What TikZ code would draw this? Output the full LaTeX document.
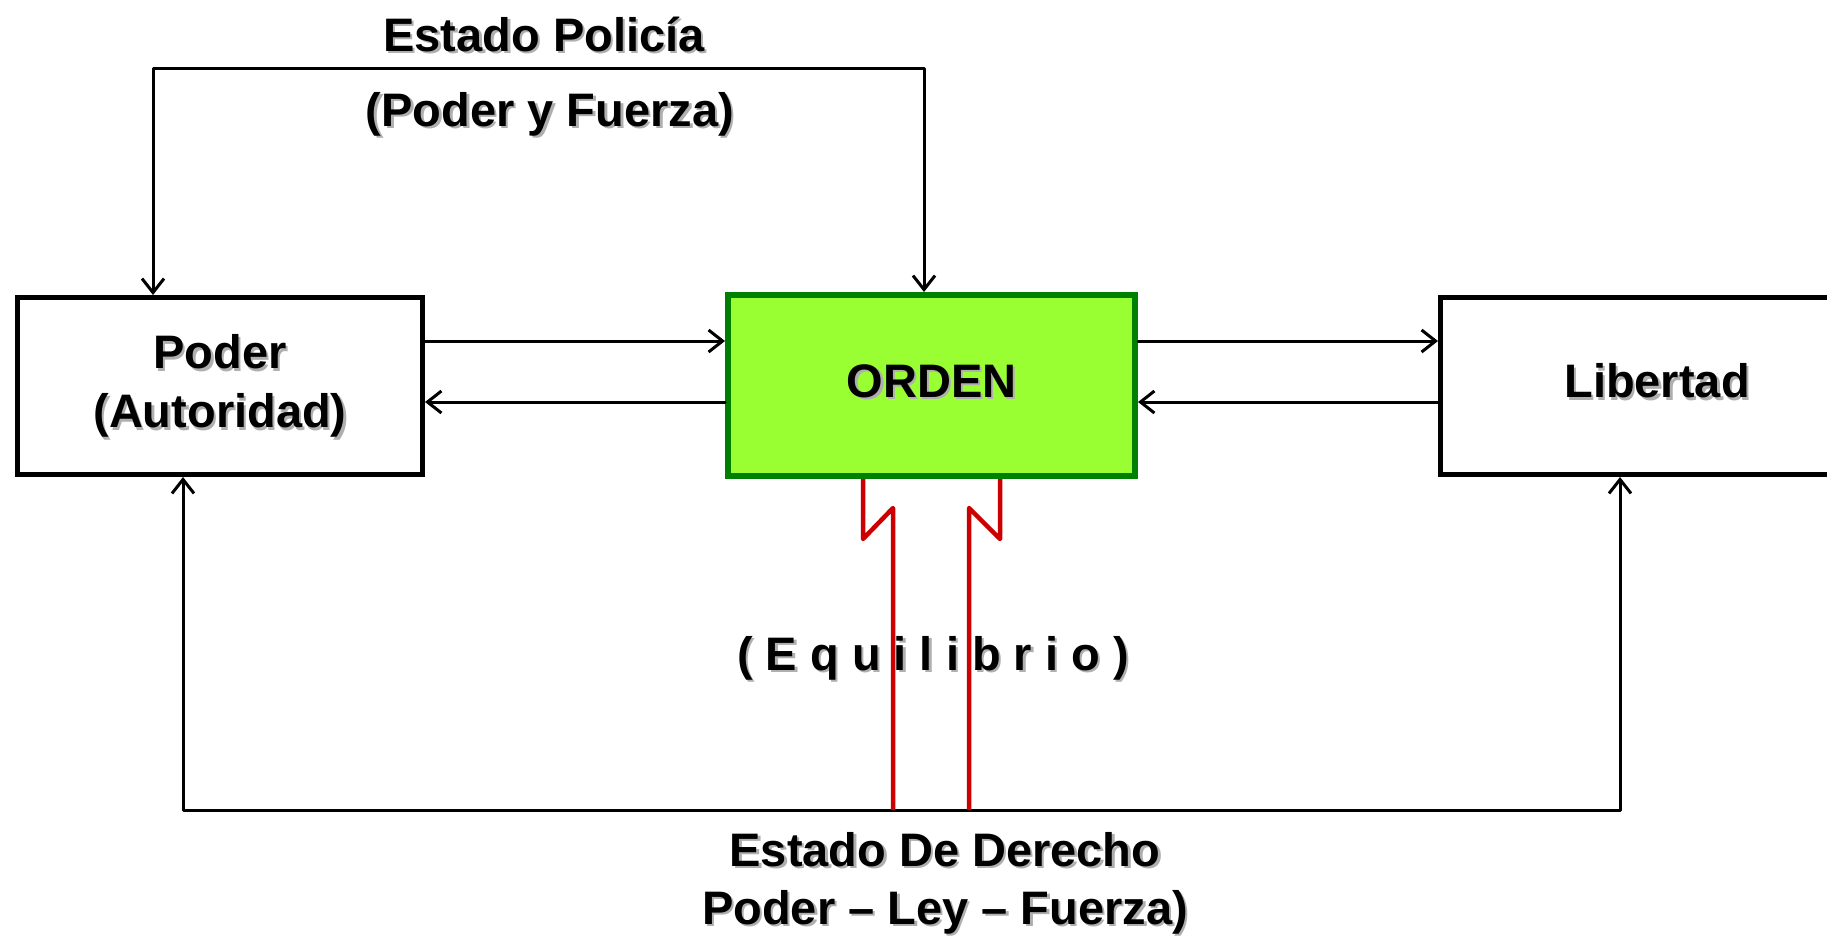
\documentclass[tikz,border=0pt]{standalone}
\usepackage{fontspec}
\setmainfont{Liberation Sans}
\usetikzlibrary{arrows.meta}
\definecolor{ordfill}{RGB}{153,255,51}
\definecolor{ordline}{RGB}{0,128,0}
\definecolor{redl}{RGB}{204,0,0}
\definecolor{shadowc}{RGB}{175,175,175}
\newcommand\shd[1]{\leavevmode\rlap{\kern2.5pt\raisebox{-2.5pt}[0pt][0pt]{\textcolor{shadowc}{#1}}}#1}
\begin{document}
\begin{tikzpicture}[x=1pt,y=-1pt,
  txt/.style={font=\fontsize{47pt}{59pt}\selectfont\bfseries, inner sep=0pt},
  box/.style={draw=black, line width=5pt, fill=white, txt, align=center, minimum height=177pt},
  ordbox/.style={draw=ordline, line width=6pt, fill=ordfill, txt, minimum width=407pt, minimum height=181pt, text depth=11pt, text height=34pt},
  arr/.style={line width=3pt, line cap=round, line join=round, -{Straight Barb[length=14pt,width=22pt]}},
  darr/.style={line width=3pt, line cap=round, line join=round, {Straight Barb[length=14pt,width=22pt]}-{Straight Barb[length=14pt,width=22pt]}},
  redline/.style={draw=redl, line width=4.5pt, line join=round}
]
\useasboundingbox (0,0) rectangle (1827,935);
\fill[white] (0,0) rectangle (1827,935);

% boxes
\node[box, minimum width=405pt] (poder) at (220,386) {\shd{Poder}\\\shd{(Autoridad)}};
\node[ordbox] (orden) at (931.5,385.5) {\shd{ORDEN}};
\node[box, minimum width=433pt, text height=34pt, text depth=11pt] (libertad) at (1657,386) {\shd{Libertad}};

% free texts
\node[txt, anchor=base] (policia) at (544,51) {\shd{Estado Policía}};
\node[txt, anchor=base] (pyf) at (550,126) {\shd{(Poder y Fuerza)}};
\node[txt, anchor=base] (equil) at (933,670) {\shd{( E q u i l i b r i o )}};
\node[txt, anchor=base] (edd) at (945,866) {\shd{Estado De Derecho}};
\node[txt, anchor=base] (plf) at (945,924) {\shd{Poder – Ley – Fuerza)}};

% helper coordinates
\coordinate (tl) at (153,68);
\coordinate (tr) at (924,68);
\coordinate (bl) at (183,810);
\coordinate (br) at (1620,810);
\coordinate (ya) at (0,341);
\coordinate (yb) at (0,402);
\coordinate (xl) at (863,0);
\coordinate (xr) at (1000,0);
\coordinate (rl) at (893,810);
\coordinate (rr) at (969,810);

% top loop (Estado Policía)
\draw[darr] (poder.north -| tl) -- (tl) -- (tr) -- (orden.north -| tr);
% bottom loop (Estado de Derecho)
\draw[darr] (poder.south -| bl) -- (bl) -- (br) -- (libertad.south -| br);

% horizontal arrows
\draw[arr] (poder.east |- ya) -- (orden.west |- ya);
\draw[arr] (orden.west |- yb) -- (poder.east |- yb);
\draw[arr] (orden.east |- ya) -- (libertad.west |- ya);
\draw[arr] (libertad.west |- yb) -- (orden.east |- yb);

% red lines
\draw[redline] (orden.south -| xl) -- ++(0,60) -- ++(30,-31) -- (rl);
\draw[redline] (orden.south -| xr) -- ++(0,60) -- ++(-31,-31) -- (rr);
\end{tikzpicture}
\end{document}
